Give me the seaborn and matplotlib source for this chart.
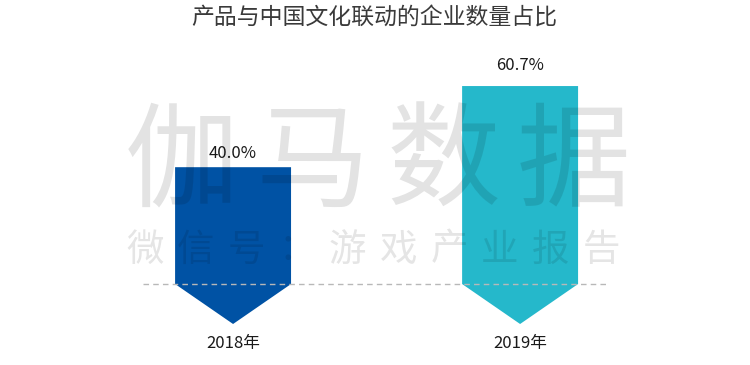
import matplotlib
matplotlib.use("Agg")
import matplotlib.pyplot as plt
from matplotlib.patches import Polygon
import seaborn as sns
import pandas as pd

# ----------------------------------------
# Data
# ----------------------------------------
years = ["2018年", "2019年"]
shares = [40.0, 60.7]
value_labels = ["40.0%", "60.7%"]
bar_colors = ["#0052A4", "#25B8CB"]
title = "产品与中国文化联动的企业数量占比"
watermark_big = "伽马数据"
watermark_small = "微信号：游戏产业报告"

sns.set_theme(style="white")
plt.rcParams["font.family"] = ["Noto Sans CJK SC", "DejaVu Sans"]

df = pd.DataFrame({"year": years, "share": shares})

fig = plt.figure(figsize=(7.5, 3.65), dpi=100)
ax = fig.add_axes([0, 0, 1, 1])

sns.barplot(data=df, x="year", y="share", hue="year", palette=bar_colors,
            width=0.404, saturation=1, legend=False, ax=ax)

# ----------------------------------------
# Turn each bar into a downward arrow
# ----------------------------------------
shoulder = 10.2
label_pad = [10, 15]
for i, patch in enumerate(list(ax.patches)):
    x0 = patch.get_x()
    w = patch.get_width()
    h = patch.get_height()
    arrow = Polygon([(x0, h), (x0 + w, h), (x0 + w, shoulder),
                     (x0 + w / 2, 0), (x0, shoulder)],
                    closed=True, facecolor=patch.get_facecolor(),
                    edgecolor="none", zorder=2)
    patch.set_visible(False)
    ax.add_patch(arrow)
    ax.annotate(value_labels[i], xy=(x0 + w / 2, h), xytext=(0, label_pad[i]),
                textcoords="offset points", ha="center", va="center",
                fontsize=12, color="#1a1a1a")
    ax.annotate(years[i], xy=(x0 + w / 2, 0), xytext=(0, -14),
                textcoords="offset points", ha="center", va="center",
                fontsize=12, color="#1a1a1a")

ax.plot([-0.314, 1.303], [shoulder, shoulder], color="#b8b8b8",
        linestyle=(0, (4, 3)), linewidth=1, zorder=3)

ax.set_xlim(-0.812, 1.801)
ax.set_ylim(-10.46, 82.65)
ax.set_axis_off()

# ----------------------------------------
# Title and watermark (drawn on top of the bars)
# ----------------------------------------
fig.text(374 / 750, 1 - 18 / 365, title, ha="center", va="center",
         fontsize=16.5, color="#3a3a3a")

for i, ch in enumerate(watermark_big):
    fig.text((182 + i * 130.5) / 750, 1 - 165 / 365, ch, ha="center",
             va="center", fontsize=82, color="black", alpha=0.11,
             fontweight="light", zorder=5)
for i, ch in enumerate(watermark_small):
    fig.text((145 + i * 50.7) / 750, 1 - 250 / 365, ch, ha="center",
             va="center", fontsize=27, color="black", alpha=0.1,
             fontweight="light", zorder=5)

fig.savefig("out.png", dpi=100)
